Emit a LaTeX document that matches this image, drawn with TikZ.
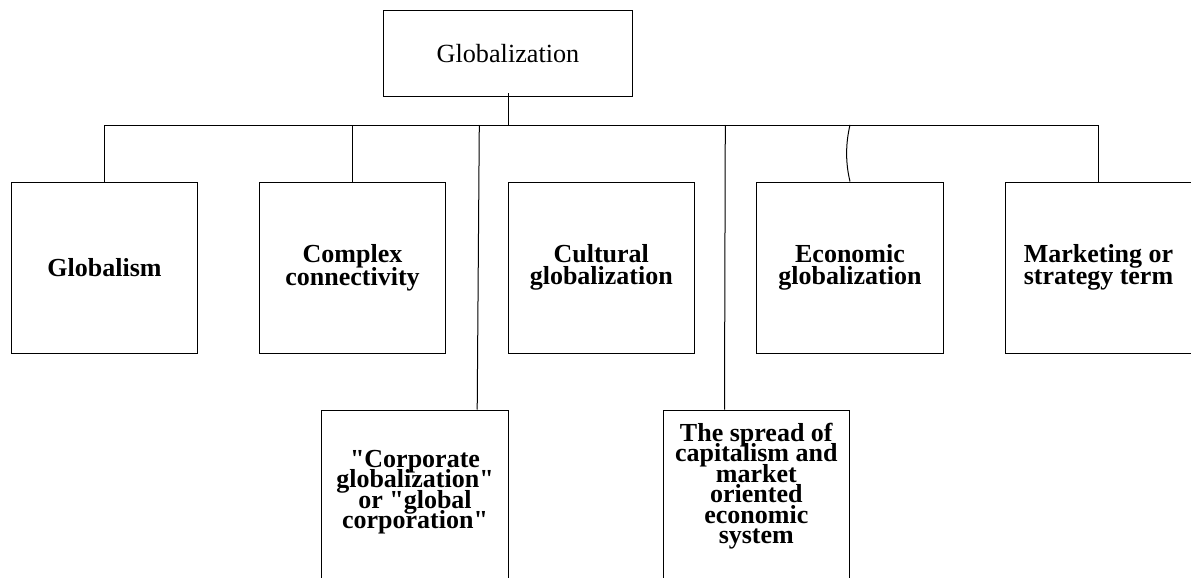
\documentclass[tikz,border=0pt]{standalone}
\usepackage{fontspec}
\setmainfont{Liberation Serif}[Ligatures=TeXOff]
\newcommand\tightlines{\lineskiplimit=-20pt\relax}

\tikzset{
  topbox/.style={draw, line width=0.5pt, minimum width=124.7pt, minimum height=43.2pt, inner sep=0pt, font=\fontsize{13.1}{15}\selectfont},
  catbox/.style={draw, line width=0.5pt, minimum width=93.3pt, minimum height=85.5pt, inner sep=0pt, align=center, font=\fontsize{13}{11.3}\selectfont\bfseries\tightlines},
  subbox/.style={catbox, font=\fontsize{13}{10.25}\selectfont\bfseries\tightlines},
  link/.style={line width=0.5pt}
}

\begin{document}
\begin{tikzpicture}[x=0.5pt,y=-0.5pt]
\useasboundingbox (0,0) rectangle (1191,578);
\clip (0,0) rectangle (1191,578);
% top of the tree
\node[topbox] (glob) at (508,53.2) {Globalization};
% first row
\node[catbox] (globalism) at (104.5,267.5) {Globalism};
\node[catbox] (complex) at (352.5,267.5) {Complex\\connectivity};
\node[catbox] (cultural) at (601.3,267.5) {Cultural\\globalization};
\node[catbox] (econ) at (850,267.5) {Economic\\globalization};
\node[catbox] (market) at (1098.5,267.5) {Marketing or\\strategy term};
% second row
\node[subbox, text depth=6pt] (corp) at (415,495.5) {"Corporate\\globalization"\\or "global\\corporation"};
\node[subbox, text depth=12pt] (spread) at (756.3,495.5) {The spread of\\capitalism and\\market\\oriented\\economic\\system};
% points on the bar
\coordinate (barL) at (104.5,125);
\coordinate (barR) at (1098.5,125);
\coordinate (tapCorp) at (479.3,125);
\coordinate (tapSpread) at (725.3,125);
\coordinate (tapEcon) at (850,125);
% connectors
\draw[link] ([yshift=1.8pt]glob.south) -- (glob.south |- barL);
\draw[link] (barL) -- (barR);
\draw[link] (barL) -- (globalism.north);
\draw[link] (complex.north |- barL) -- (complex.north);
\draw[link] (tapCorp) -- ([xshift=-15.8pt]corp.north east);
\draw[link] (tapSpread) -- ([xshift=31pt]spread.north west);
\draw[link] (tapEcon) .. controls (845.5,144) and (845.5,163) .. (econ.north);
\draw[link] (barR) -- (market.north);
\end{tikzpicture}
\end{document}
